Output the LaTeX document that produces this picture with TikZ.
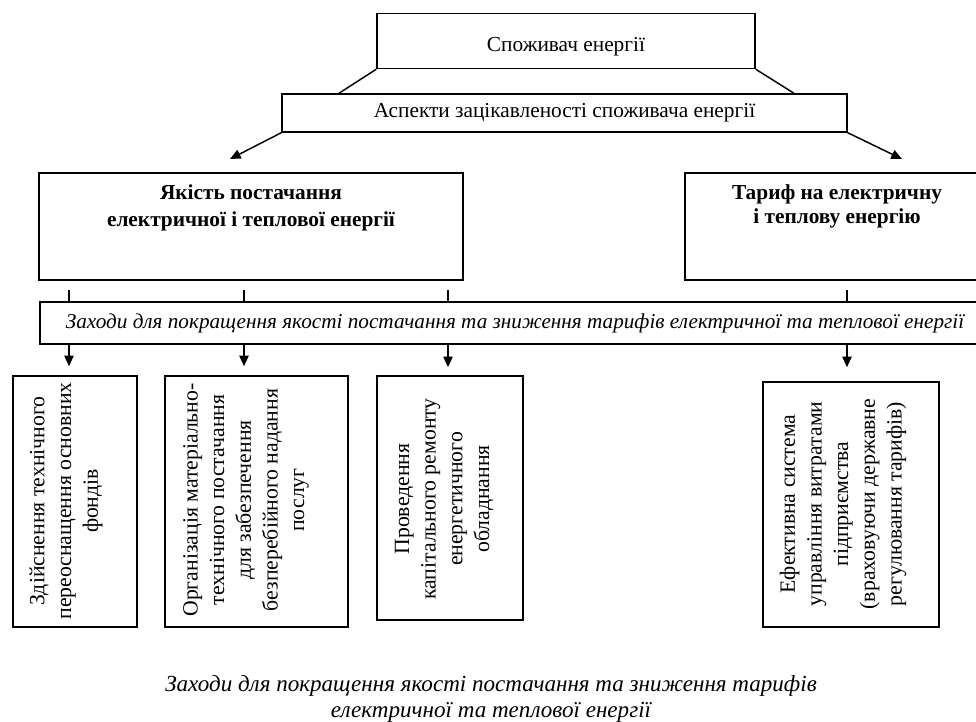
\documentclass[tikz,border=0pt]{standalone}
\usepackage{fontspec}
\setmainfont{Liberation Serif}
\usetikzlibrary{arrows.meta}
\newlength{\du}
\setlength{\du}{0.75pt}
\tikzset{
  blk/.style={draw, line width=1.1pt, inner sep=0pt, align=center},
  con/.style={line width=1.1pt},
  arr/.style={con, -{Triangle[length=8pt,width=7pt]}},
  rot/.style={rotate=90, align=center, inner sep=0pt, font=\fontsize{16.3}{20}\selectfont},
}

\begin{document}
\begin{tikzpicture}[x=\du, y=-\du]
\useasboundingbox (0,0) rectangle (976,722);
% setfont top to latex
\node[blk, minimum width=378\du, minimum height=55\du, text height=19pt, text depth=3.5pt, font=\fontsize{16}{18}\selectfont] (cons) at (566,41) {Споживач енергії};
\node[blk, minimum width=565\du, minimum height=38\du, font=\fontsize{16}{18}\selectfont] (asp) at (564.5,113) {Аспекти зацікавленості споживача енергії};
\coordinate (dl) at (339,0);
\coordinate (dr) at (794,0);
\draw[con] (cons.south west) -- (dl |- asp.north);
\draw[con] (cons.south east) -- (dr |- asp.north);
\node[blk] (qual) at (251,226.5) {\parbox[c][107\du][t]{424\du}{\centering\vspace*{12\du}\fontsize{16}{20}\selectfont\bfseries Якість постачання\\електричної і теплової енергії}};
\node[blk] (tarif) at (837,226.5) {\parbox[c][107\du][t]{304\du}{\centering\vspace*{12\du}\fontsize{16}{18}\selectfont\bfseries Тариф на електричну\\і теплову енергію}};
\coordinate (al) at (230,159);
\coordinate (ar) at (902,159);
\draw[arr] (asp.south west) -- (al);
\draw[arr] (asp.south east) -- (ar);
% setfont bar to latex
\node[blk, minimum width=950\du, minimum height=42\du, font=\fontsize{15.9}{20}\selectfont\itshape] (bar) at (515,323) {Заходи для покращення якості постачання та зниження тарифів електричної та теплової енергії};
\coordinate (t1) at (69,290);
\coordinate (t2) at (244,290);
\coordinate (t3) at (448,290);
\coordinate (t4) at (847,290);
\foreach \t in {t1,t2,t3,t4}
  \draw[con] (\t) -- (\t |- bar.north);
% bottom boxes
\node[blk, minimum width=124\du, minimum height=251\du] (b1) at (75,501.5) {};
\node[blk, minimum width=183\du, minimum height=251\du] (b2) at (256.5,501.5) {};
\node[blk, minimum width=146\du, minimum height=244\du] (b3) at (450,498) {};
\node[blk, minimum width=176\du, minimum height=245\du] (b4) at (851,504.5) {};
\draw[arr, shorten >=9\du] (t1 |- bar.south) -- (t1 |- b1.north);
\draw[arr, shorten >=9\du] (t2 |- bar.south) -- (t2 |- b2.north);
\draw[arr, shorten >=8\du] (t3 |- bar.south) -- (t3 |- b3.north);
\draw[arr, shorten >=14\du] (t4 |- bar.south) -- (t4 |- b4.north);
\node[rot] (b1txt) at (66,501) {Здійснення технічного\\переоснащення основних\\фондів};
\node[rot] (b2txt) at (246,500) {Організація матеріально-\\технічного постачання\\для забезпечення\\безперебійного надання\\послуг};
\node[rot] (b3txt) at (444,499) {Проведення\\капітального ремонту\\енергетичного\\обладнання};
\node[rot] (b4txt) at (843,504) {Ефективна система\\управління витратами\\підприємства\\(враховуючи державне\\регулювання тарифів)};
% caption
\node[align=center, font=\fontsize{17.3}{19}\selectfont\itshape] (capt) at (491,699) {Заходи для покращення якості постачання та зниження тарифів\\електричної та теплової енергії};
\end{tikzpicture}
\end{document}
